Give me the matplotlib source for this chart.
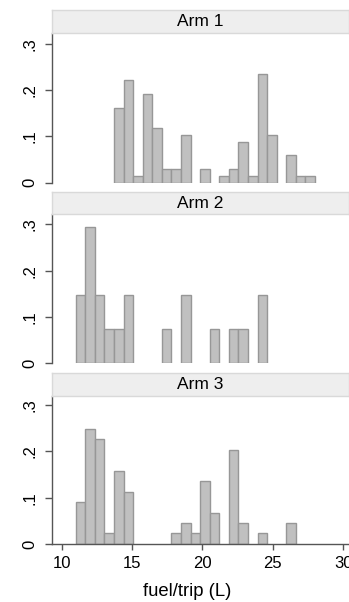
import numpy as np
import matplotlib
matplotlib.use("Agg")
from matplotlib import pyplot as plt

plt.rcParams['font.family'] = ['Liberation Sans', 'DejaVu Sans']

# histogram bins (shared by all arms)
bin_start = 11.0
bin_width = 0.68

# density per bin
arm1 = [0, 0, 0, 0, 0.162, 0.221, 0.015, 0.191, 0.118, 0.029, 0.029, 0.103, 0,
        0.029, 0, 0.015, 0.029, 0.088, 0.015, 0.235, 0.103, 0, 0.059, 0.015, 0.015]
arm2 = [0.147, 0.294, 0.147, 0.074, 0.074, 0.147, 0, 0, 0, 0.074, 0, 0.147, 0,
        0, 0.074, 0, 0.074, 0.074, 0, 0.147, 0, 0, 0, 0, 0]
arm3 = [0.090, 0.249, 0.226, 0.023, 0.158, 0.113, 0, 0, 0, 0, 0.023, 0.045, 0.023,
        0.136, 0.068, 0, 0.204, 0.045, 0, 0.023, 0, 0, 0.045, 0, 0]
arms = [arm1, arm2, arm3]
titles = ["Arm 1", "Arm 2", "Arm 3"]

yticks = [0, 0.1, 0.2, 0.3]
ytick_labels = ["0", ".1", ".2", ".3"]
xticks = [10, 15, 20, 25, 30]
xlabel = "fuel/trip (L)"

W, H = 349, 602
fig = plt.figure(figsize=(W / 100, H / 100), dpi=100)

# panel layout in pixels: (strip top, plot top, plot bottom)
panels = [(10, 33.3, 182.7), (191.7, 214.3, 363.3), (372.7, 395.7, 544)]
left = 51.7

for i, (heights, title, (s_top, p_top, p_bot)) in enumerate(zip(arms, titles, panels)):
    ax = fig.add_axes([left / W, 1 - p_bot / H, 1 - left / W, (p_bot - p_top) / H])
    h = np.array(heights)
    lefts = bin_start + bin_width * np.arange(len(h))
    keep = h > 0
    ax.bar(lefts[keep], h[keep], width=bin_width, align="edge",
           color="#c0c0c0", edgecolor="#979797", linewidth=1.0)
    ax.set_xlim(9.29, 30.42)
    ax.set_ylim(0, 0.3227 * (p_bot - p_top) / 149.4)
    for s in ["top", "right"]:
        ax.spines[s].set_visible(False)
    ax.spines["left"].set_color("#555555")
    ax.spines["left"].set_linewidth(1.0)
    ax.set_yticks(yticks)
    ax.set_yticklabels(ytick_labels, rotation=90, va="center", fontsize=12)
    ax.tick_params(axis="y", length=5, width=1, color="#555555", pad=5)
    if i < 2:
        ax.spines["bottom"].set_visible(False)
        ax.set_xticks([])
    else:
        ax.spines["bottom"].set_color("#555555")
        ax.spines["bottom"].set_linewidth(1.0)
        ax.set_xticks(xticks)
        ax.tick_params(axis="x", length=4.5, width=1, color="#555555", labelsize=12, pad=4)

    # strip with panel title
    sax = fig.add_axes([left / W, 1 - p_top / H, 1 - left / W, (p_top - s_top) / H])
    sax.set_facecolor("#eeeeee")
    for s in sax.spines.values():
        s.set_color("#d9d9d9")
        s.set_linewidth(1.0)
    sax.set_xticks([])
    sax.set_yticks([])
    sax.text(0.5, 0.5, title, ha="center", va="center", fontsize=12.5,
             transform=sax.transAxes)

fig.text(187.5 / W, 1 - 591 / H, xlabel, ha="center", va="center", fontsize=13.3)

plt.savefig("out.png", dpi=100)
plt.close()
